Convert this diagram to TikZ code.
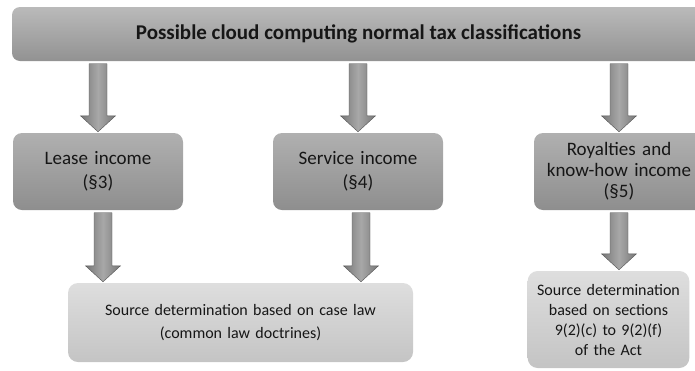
\documentclass[tikz,border=0pt]{standalone}
\usepackage{fontspec}
\setmainfont{Carlito}
\usepackage{tikz}
\usetikzlibrary{calc}
\definecolor{bannertop}{RGB}{186,186,186}
\definecolor{bannerbot}{RGB}{146,146,146}
\definecolor{incometop}{RGB}{176,176,176}
\definecolor{incomebot}{RGB}{142,142,142}
\definecolor{sourcetop}{RGB}{222,222,222}
\definecolor{sourcebot}{RGB}{196,196,196}
\definecolor{arrowside}{RGB}{118,118,118}
\definecolor{arrowmid}{RGB}{168,168,168}
\definecolor{arrowline}{RGB}{84,84,84}
\definecolor{inktext}{RGB}{22,22,22}
\tikzstyle{Banner}=[rectangle, rounded corners=8, minimum width=693, minimum height=54, top color=bannertop, bottom color=bannerbot, text=inktext, font=\bfseries\fontsize{21}{25}\selectfont]
\tikzstyle{Income}=[rectangle, rounded corners=9, minimum width=170, minimum height=77, text width=160, align=center, top color=incometop, bottom color=incomebot, text=inktext, font=\fontsize{19}{24}\selectfont]
\tikzstyle{Source}=[rectangle, rounded corners=10, align=center, top color=sourcetop, bottom color=sourcebot, text=inktext, font=\fontsize{16}{20}\selectfont]
\tikzstyle{Down}=[draw=arrowline, left color=arrowside, right color=arrowside, middle color=arrowmid,
    to path={let \p1=(\tikztostart), \p2=(\tikztotarget) in
        (\x1-9pt,\y1-2.5pt) -- (\x1+9pt,\y1-2.5pt) -- (\x1+9pt,\y2+17pt) -- (\x1+17.5pt,\y2+17pt)
        -- (\x1,\y2+1pt) -- (\x1-17.5pt,\y2+17pt) -- (\x1-9pt,\y2+17pt) -- cycle}]

\begin{document}
\begin{tikzpicture}[x=1pt, y=-1pt]
    \useasboundingbox (0,0) rectangle (695,370);
    \clip (0,0) rectangle (695,370);
    \path
    (358.5,34) node[Banner] (title) {Possible cloud computing normal tax classifications}
    (98,171.5) node[Income] (lease) {Lease income\\(\S3)}
    (358,171.5) node[Income] (service) {Service income\\(\S4)}
    (619,171.5) node[Income, font=\fontsize{19}{21}\selectfont] (royal) {Royalties and\\know-how income\\(\S5)};

    \path
    (240.5,322.5) node[Source, minimum width=345, minimum height=79, text width=330, font=\fontsize{16}{23}\selectfont] (caselaw) {Source determination based on case law\\(common law doctrines)}
    (608.5,319.5) node[Source, minimum width=161, minimum height=97, text width=155] (sections) {Source determination\\based on sections\\9(2)(c) to 9(2)(f)\\of the Act};

    \draw[Down] (lease.north |- title.south) to (lease.north);
    \draw[Down] (service.north |- title.south) to (service.north);
    \draw[Down] (royal.north |- title.south) to (royal.north);

    \draw[Down] ([xshift=5]lease.south) to ([xshift=5]lease.south |- caselaw.north);
    \draw[Down] ([xshift=3]service.south) to ([xshift=3]service.south |- caselaw.north);
    \draw[Down] (royal.south) to (royal.south |- sections.north);
\end{tikzpicture}
\end{document}
